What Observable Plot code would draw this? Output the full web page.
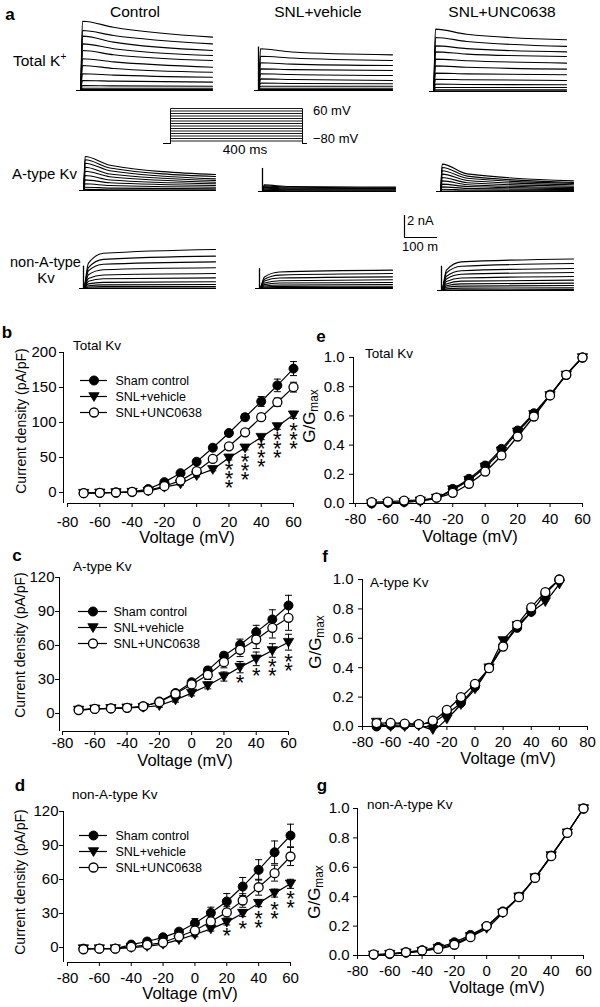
<!DOCTYPE html>
<html>
<head>
<meta charset="utf-8">
<script src="https://cdn.jsdelivr.net/npm/d3@7"></script>
<script src="https://cdn.jsdelivr.net/npm/@observablehq/plot@0.6"></script>
<style>
html,body{margin:0;padding:0;background:#fff;}
#fig{position:relative;width:600px;height:1007px;overflow:hidden;background:#fff;color:#000;font-family:"Liberation Sans",Arial,Helvetica,sans-serif;}
.lbl{position:absolute;white-space:nowrap;line-height:1;font-weight:normal;}
.lbl sub{font-size:0.7em;vertical-align:-0.3em;line-height:0;}
.lbl sup{font-size:0.65em;vertical-align:0.6em;line-height:0;}
</style>
</head>
<body>
<div id="fig"></div>
<script>
const FONT = '"Liberation Sans", Arial, Helvetica, sans-serif';
const fig = document.getElementById("fig");

// ================= DATA =================
const voltages = [-70, -60, -50, -40, -30, -20, -10, 0, 10, 20, 30, 40, 50, 60];
const seriesNames = ["Sham control", "SNL+vehicle", "SNL+UNC0638"];

// (b) Total Kv current density (pA/pF)
const totalKvSham       = [-1, -0.5, 0, 1, 5, 14.8, 27.6, 44, 64, 85, 107.6, 130, 153, 177];
const totalKvShamSem    = [1, 1, 1, 1, 1.5, 2, 2.5, 3, 3, 3.5, 5, 7, 9, 10];
const totalKvVehicle    = [-1, -0.5, 0, 0.5, 2, 7.6, 12.4, 24.3, 33, 49.5, 63.8, 79, 94.3, 111];
const totalKvVehicleSem = [1, 1, 1, 1, 1, 1.5, 2, 2, 2, 3, 3, 3.5, 4, 5];
const totalKvUnc        = [-1, -0.5, 0, 1, 3, 9, 17, 30.5, 48, 66, 86, 107.6, 129, 150.5];
const totalKvUncSem     = [1, 1, 1, 1, 1, 2, 2, 3, 3, 3.5, 4, 5, 6, 7];
const totalKvStarV = [20, 30, 40, 50, 60];
const totalKvStarN = [3, 3, 3, 3, 3];
const totalKvStarY = [22, 33, 52, 64.8, 78];

// (c) A-type Kv current density (pA/pF)
const aKvSham       = [3.5, 4, 4.5, 5, 6, 10.6, 18, 27.6, 38, 51, 60.6, 71.8, 83, 95.3];
const aKvShamSem    = [1, 1, 1, 1, 1, 1.5, 2, 2.5, 3, 3, 5, 6, 8.5, 9];
const aKvVehicle    = [3, 4, 4.5, 5, 5.5, 7, 12, 18, 24.7, 32.6, 40.9, 48.2, 55.6, 62.9];
const aKvVehicleSem = [1, 1, 1, 1, 1, 1.5, 2, 2.5, 3, 4, 5, 6, 6, 7];
const aKvUnc        = [3, 4, 4.5, 5, 6.4, 10, 17.4, 25.6, 34, 45.3, 56.2, 65.3, 75.6, 84.4];
const aKvUncSem     = [1, 1, 1, 1, 1, 1.5, 2, 3, 4, 5, 6, 8, 9, 11];
const aKvStarV = [30, 40, 50, 60];
const aKvStarN = [1, 1, 2, 2];
const aKvStarY = [29, 35, 38.4, 43];

// (d) non-A-type Kv current density (pA/pF)
const nonAKvSham       = [-1, -1, -1, 2.6, 5.3, 9, 14, 21.5, 30.6, 40.6, 53.8, 68.5, 84, 98.8];
const nonAKvShamSem    = [1, 1, 1, 1, 1, 1.5, 2, 4, 5, 7, 8, 9, 10, 10];
const nonAKvVehicle    = [-1, -1, -1, 0, 1, 3, 7, 11.5, 16.5, 22.4, 30.3, 39.1, 48, 56.2];
const nonAKvVehicleSem = [1, 1, 1, 1, 1, 1, 1.5, 2, 2, 2.5, 3, 3, 3.5, 4];
const nonAKvUnc        = [-1.5, -1, -1, 0.5, 2.4, 4.4, 9.7, 15, 23, 31, 41.5, 53.2, 65.6, 80.3];
const nonAKvUncSem     = [1, 1, 1, 1, 1, 1.5, 2, 3, 4, 5, 6, 7, 7, 8];
const nonAKvStarV = [20, 30, 40, 50, 60];
const nonAKvStarN = [1, 1, 2, 2, 2];
const nonAKvStarY = [12, 18, 23, 31, 40.3];

// (e) Total Kv G/Gmax
const gTotalSham    = [0.0, 0.005, 0.01, 0.02, 0.04, 0.1, 0.169, 0.26, 0.374, 0.5, 0.618, 0.746, 0.88, 1.0];
const gTotalVehicle = [0.0, 0.003, 0.008, 0.018, 0.038, 0.095, 0.16, 0.25, 0.36, 0.49, 0.61, 0.74, 0.88, 1.0];
const gTotalUnc     = [0.01, 0.013, 0.02, 0.025, 0.04, 0.073, 0.135, 0.219, 0.329, 0.459, 0.596, 0.74, 0.881, 1.0];

// (f) A-type Kv G/Gmax
const gASham    = [0.0, 0.01, 0.01, 0.015, 0.03, 0.09, 0.16, 0.27, 0.4, 0.55, 0.671, 0.78, 0.9, 1.0];
const gAVehicle = [0.03, 0.0, 0.0, 0.005, -0.02, 0.052, 0.15, 0.256, 0.4, 0.585, 0.687, 0.778, 0.85, 0.97];
const gAUnc     = [0.023, 0.025, 0.02, 0.016, 0.04, 0.113, 0.2, 0.29, 0.397, 0.544, 0.692, 0.81, 0.914, 1.0];

// (g) non-A-type Kv G/Gmax
const gNonASham    = [0.005, 0.01, 0.02, 0.035, 0.058, 0.09, 0.14, 0.2, 0.3, 0.4, 0.53, 0.68, 0.835, 1.0];
const gNonAVehicle = [0.004, 0.009, 0.018, 0.03, 0.05, 0.08, 0.13, 0.185, 0.29, 0.4, 0.53, 0.68, 0.835, 1.0];
const gNonAUnc     = [0.007, 0.013, 0.022, 0.034, 0.045, 0.073, 0.125, 0.2, 0.295, 0.397, 0.528, 0.676, 0.834, 1.0];

// tick values
const ivXTicks = [-80, -60, -40, -20, 0, 20, 40, 60];
const fXTicks = [-80, -60, -40, -20, 0, 20, 40, 60, 80];
const totalKvYTicks = [0, 50, 100, 150, 200];
const kvYTicks = [0, 30, 60, 90, 120];
const gYTicks = [0, 0.2, 0.4, 0.6, 0.8, 1.0];

// (a) current traces, nA; each trace = values at the listed times (ms)
const traceColumns = ["Control", "SNL+vehicle", "SNL+UNC0638"];
const totalKTimes = [6, 100, 400];
const totalKControl = [[6.3,5.75,4.85],[5.45,5.0,4.24],[4.94,4.4,3.64],[4.24,3.8,3.18],[3.64,3.25,2.73],[2.88,2.6,2.12],[2.27,2.0,1.66],[1.52,1.4,1.21],[0.91,0.85,0.76],[0.45,0.42,0.39],[0.2,0.2,0.2],[0.08,0.08,0.08]];
const totalKVehicle = [[3.79,3.5,3.24],[3.12,2.95,2.73],[2.52,2.4,2.27],[1.97,1.9,1.82],[1.52,1.45,1.36],[1.06,1.0,0.91],[0.67,0.64,0.61],[0.39,0.39,0.39],[0.2,0.2,0.2],[0.08,0.08,0.08]];
const totalKUnc = [[5.67,5.2,4.7],[4.91,4.55,4.1],[4.15,3.9,3.6],[3.6,3.4,3.18],[2.94,2.8,2.58],[2.33,2.2,2.03],[1.67,1.6,1.52],[1.12,1.07,1.0],[0.67,0.64,0.61],[0.36,0.36,0.36],[0.15,0.15,0.15],[0.05,0.05,0.05]];
const totalKSpike = [0, 3.95, 0];

const aTypeTimes = [5, 80, 400];
const aTypeControl = [[3.09,2.3,1.45],[2.79,2.05,1.27],[2.48,1.8,1.06],[2.12,1.5,0.91],[1.75,1.25,0.75],[1.36,0.95,0.61],[0.97,0.7,0.45],[0.61,0.45,0.3],[0.3,0.22,0.15],[0.1,0.07,0.05]];
const aTypeVehicle = [[0.6,0.45,0.4],[0.5,0.38,0.33],[0.4,0.3,0.26],[0.3,0.22,0.2],[0.2,0.15,0.13],[0.1,0.07,0.06]];
const aTypeUnc = [[2.49,1.6,0.97],[2.18,1.4,0.82],[1.88,1.2,0.73],[1.58,1.0,0.61],[1.27,0.8,0.48],[0.97,0.62,0.36],[0.67,0.45,0.27],[0.42,0.28,0.18],[0.2,0.14,0.1],[0.05,0.04,0.03]];
const aTypeSpike = [0, 2.1, 0];

const nonATimes = [15, 60, 400];
const nonAControl = [[2.3,3.2,3.55],[1.9,2.65,2.94],[1.6,2.2,2.42],[1.25,1.7,1.88],[0.9,1.23,1.36],[0.65,0.88,0.97],[0.42,0.56,0.61],[0.25,0.33,0.36],[0.13,0.17,0.18],[0.04,0.05,0.05]];
const nonAVehicle = [[1.05,1.5,1.67],[0.85,1.22,1.36],[0.68,0.95,1.06],[0.5,0.71,0.79],[0.35,0.5,0.55],[0.23,0.32,0.36],[0.14,0.19,0.21],[0.06,0.08,0.09]];
const nonAUnc = [[1.85,2.6,2.87],[1.6,2.2,2.45],[1.3,1.8,2.0],[1.05,1.48,1.64],[0.82,1.14,1.27],[0.6,0.85,0.94],[0.43,0.6,0.67],[0.29,0.4,0.45],[0.15,0.22,0.24],[0.05,0.07,0.08]];
const nonASpike = [2.03, 1.8, 2.2];

// voltage protocol (mV, ms)
const holdingMv = -80;
const stepLevelsMv = [-70, -60, -50, -40, -30, -20, -10, 0, 10, 20, 30, 40, 50, 60];
const protocolMs = [-20, 0, 400, 410];
// scale bar
const scaleBarNA = 2;
const scaleBarMs = 100;

// ================= HELPERS =================
function addSvg(svg, left, top) {
  svg.style.position = "absolute";
  svg.style.left = left + "px";
  svg.style.top = top + "px";
  svg.style.overflow = "visible";
  svg.style.background = "transparent";
  svg.style.maxWidth = "none";
  fig.appendChild(svg);
}
function label(html, x, y, o = {}) {
  const d = document.createElement("div");
  d.className = "lbl";
  d.innerHTML = html;
  d.style.left = x + "px";
  d.style.top = y + "px";
  d.style.fontSize = (o.size || 14) + "px";
  if (o.bold) d.style.fontWeight = "bold";
  const ax = o.anchor === "middle" ? "-50%" : o.anchor === "end" ? "-100%" : "0";
  d.style.transform = `translate(${ax}, -50%)` + (o.rotate ? ` rotate(${o.rotate}deg)` : "");
  d.style.transformOrigin = "center center";
  fig.appendChild(d);
}
const triangleDown = {draw(ctx, size) {
  const r = Math.sqrt(size / Math.PI);
  ctx.moveTo(-1.15 * r, -0.85 * r); ctx.lineTo(1.15 * r, -0.85 * r); ctx.lineTo(0, 1.1 * r); ctx.closePath();
}};
const capMark = {draw(ctx) { ctx.moveTo(-3.5, 0); ctx.lineTo(3.5, 0); }};
const seriesStyle = [
  {symbol: "circle", fill: "black", stroke: "black", strokeWidth: 1},
  {symbol: triangleDown, fill: "black", stroke: "black", strokeWidth: 0.8},
  {symbol: "circle", fill: "white", stroke: "black", strokeWidth: 1.3}
];
function rowsOf(values, sems) {
  return voltages.map((v, i) => ({v, y: values[i], sem: sems ? sems[i] : 0}));
}
function starsOf(vs, ns, ys) { return vs.map((v, i) => ({v, n: ns[i], y: ys[i]})); }

function dataPanel(p) {
  const [left, top, width, height] = p.box;
  const [px0, px1, py0, py1] = p.frame;
  const x0 = p.xDomain[0], y0 = p.yDomain[0], yTop = p.yDomain[1];
  const xFrom = p.xAxisFrom, xLast = p.xTicks[p.xTicks.length - 1];
  const marks = [
    Plot.ruleX([x0], {y1: () => y0, y2: () => yTop, stroke: "black", strokeWidth: 1}),
    Plot.ruleY([y0], {x1: () => xFrom, x2: () => xLast, stroke: "black", strokeWidth: 1})
  ];
  p.series.forEach(rows => marks.push(Plot.line(rows, {x: "v", y: "y", stroke: "black", strokeWidth: p.lineWidth, curve: p.curve})));
  p.series.forEach(rows => {
    const eb = rows.filter(d => d.sem > 0);
    if (!eb.length) return;
    marks.push(Plot.ruleX(eb, {x: "v", y1: d => d.y - d.sem, y2: d => d.y + d.sem, stroke: "black", strokeWidth: 1}));
    marks.push(Plot.dot(eb, {x: "v", y: d => d.y + d.sem, symbol: capMark, fill: "none", stroke: "black", strokeWidth: 1}));
    marks.push(Plot.dot(eb, {x: "v", y: d => d.y - d.sem, symbol: capMark, fill: "none", stroke: "black", strokeWidth: 1}));
  });
  p.series.forEach((rows, k) => marks.push(Plot.dot(rows, {x: "v", y: "y", r: 4.5, ...seriesStyle[k]})));
  if (p.stars) marks.push(Plot.text(p.stars, {x: "v", y: "y", text: d => Array(d.n).fill("*").join("\n"),
    fontSize: 22, lineHeight: 0.41, dy: 6, fontFamily: FONT, fill: "black"}));
  const svg = Plot.plot({
    width, height,
    marginLeft: px0 - left, marginRight: left + width - px1,
    marginTop: py1 - top, marginBottom: top + height - py0,
    style: {background: "transparent", fontFamily: FONT, fontSize: "15px", color: "black", overflow: "visible"},
    x: {domain: p.xDomain, ticks: p.xTicks, tickSize: 4, tickPadding: p.xPad, tickFormat: d => String(d), label: null},
    y: {domain: p.yDomain, ticks: p.yTicks, tickSize: 4, tickPadding: p.yPad, tickFormat: p.yFormat, label: null},
    marks
  });
  addSvg(svg, left, top);
}

function legendPanel(lx1, lx2, tx, rowsY) {
  const left = lx1 - 10, top = rowsY[0] - 10, width = 160, height = rowsY[2] - rowsY[0] + 20;
  const marks = [Plot.ruleY(seriesNames, {y: d => d, x1: () => 0, x2: () => 1, stroke: "black", strokeWidth: 1.2})];
  seriesNames.forEach((name, k) => marks.push(Plot.dot([name], {x: () => 0.5, y: d => d, r: 4.5, ...seriesStyle[k]})));
  marks.push(Plot.text(seriesNames, {x: () => 1, y: d => d, text: d => d, textAnchor: "start", dx: tx - lx2, fontSize: 12.5, fontFamily: FONT, fill: "black"}));
  const svg = Plot.plot({
    width, height, marginLeft: 10, marginRight: width - (lx2 - left), marginTop: 10, marginBottom: 10,
    x: {domain: [0, 1], axis: null},
    y: {type: "point", domain: seriesNames, axis: null, padding: 0},
    style: {background: "transparent", fontFamily: FONT, overflow: "visible"},
    marks
  });
  addSvg(svg, left, top);
}

function tracePanel(traces, times, spike, t0px, t400px, base) {
  const s = (t400px - t0px) / 400;
  const xStart = t0px - 12 * s;
  const left = Math.floor(xStart) - 2, top = base - 80, width = Math.ceil(t400px - left) + 3, height = 84;
  const rows = [];
  traces.concat([[0, 0, 0]]).forEach((tr, k) => {
    rows.push({k, t: -12, i: 0}, {k, t: 0, i: 0});
    times.forEach((t, j) => rows.push({k, t, i: tr[j]}));
  });
  const marks = [Plot.line(rows, {x: "t", y: "i", z: "k", curve: "monotone-x", stroke: "black", strokeWidth: 1.1})];
  if (spike > 0) marks.push(Plot.ruleX([0], {y1: () => 0, y2: () => spike, stroke: "black", strokeWidth: 1.3}));
  const svg = Plot.plot({
    width, height,
    marginLeft: xStart - left, marginRight: left + width - t400px,
    marginTop: (base - 77) - top, marginBottom: top + height - base,
    x: {domain: [-12, 400], axis: null},
    y: {domain: [0, 7], axis: null},
    style: {background: "transparent", overflow: "visible"},
    marks
  });
  addSvg(svg, left, top);
}

// ================= PANEL a =================
label("a", 10, 14, {size: 17, bold: true, anchor: "middle"});
label(traceColumns[0], 135, 12, {size: 15.5, anchor: "middle"});
label(traceColumns[1], 318, 12, {size: 15.5, anchor: "middle"});
label(traceColumns[2], 502, 12, {size: 15.5, anchor: "middle"});
label("Total K<sup>+</sup>", 13, 61, {size: 15.5});
label("A-type Kv", 12, 173, {size: 15});
label("non-A-type", 10, 262, {size: 14.5});
label("Kv", 46, 277, {size: 15, anchor: "middle"});

tracePanel(totalKControl, totalKTimes, totalKSpike[0], 80, 212, 90);
tracePanel(totalKVehicle, totalKTimes, totalKSpike[1], 258, 392, 90);
tracePanel(totalKUnc, totalKTimes, totalKSpike[2], 433, 566, 90.5);
tracePanel(aTypeControl, aTypeTimes, aTypeSpike[0], 83, 215, 190);
tracePanel(aTypeVehicle, aTypeTimes, aTypeSpike[1], 262, 395, 191);
tracePanel(aTypeUnc, aTypeTimes, aTypeSpike[2], 440, 573, 190.5);
tracePanel(nonAControl, nonATimes, nonASpike[0], 83, 215, 287.5);
tracePanel(nonAVehicle, nonATimes, nonASpike[1], 259, 392, 287.5);
tracePanel(nonAUnc, nonATimes, nonASpike[2], 441, 573, 289.5);

// voltage protocol
{
  const rows = [];
  stepLevelsMv.forEach((V, k) => {
    const [pre, on, off, post] = protocolMs;
    rows.push({k, t: pre, mv: holdingMv}, {k, t: on, mv: holdingMv}, {k, t: on, mv: V},
              {k, t: off, mv: V}, {k, t: off, mv: holdingMv}, {k, t: post, mv: holdingMv});
  });
  const left = 158, top = 104, width = 152, height = 44;
  const s = (302 - 170) / 400;
  const svg = Plot.plot({
    width, height,
    marginLeft: (170 + protocolMs[0] * s) - left, marginRight: left + width - (170 + protocolMs[3] * s),
    marginTop: 108 - top, marginBottom: top + height - 143,
    x: {domain: [protocolMs[0], protocolMs[3]], axis: null},
    y: {domain: [holdingMv, stepLevelsMv[stepLevelsMv.length - 1]], axis: null},
    style: {background: "transparent", overflow: "visible"},
    marks: [Plot.line(rows, {x: "t", y: "mv", z: "k", stroke: "black", strokeWidth: 0.9})]
  });
  addSvg(svg, left, top);
}
label("60 mV", 313, 110, {size: 13});
label("\u221280 mV", 313, 138, {size: 13});
label("400 ms", 245, 150, {size: 13.5, anchor: "middle"});

// scale bar
{
  const left = 400, top = 210, width = 42, height = 31;
  const svg = Plot.plot({
    width, height, marginLeft: 404 - left, marginRight: left + width - 437, marginTop: 215 - top, marginBottom: top + height - 237,
    x: {domain: [0, scaleBarMs], axis: null},
    y: {domain: [0, scaleBarNA], axis: null},
    style: {background: "transparent", overflow: "visible"},
    marks: [
      Plot.ruleX([0], {y1: () => 0, y2: () => scaleBarNA, stroke: "black", strokeWidth: 1.2}),
      Plot.ruleY([0], {x1: () => 0, x2: () => scaleBarMs, stroke: "black", strokeWidth: 1.2})
    ]
  });
  addSvg(svg, left, top);
}
label("2 nA", 407, 220, {size: 13});
label("100 m", 402, 246, {size: 13});

// ================= PANELS b–d =================
const intFmt = d => String(d);
const decFmt = d3.format(".1f");

dataPanel({box: [0, 340, 300, 210], frame: [63, 293, 503, 352], xDomain: [-82.5, 60], yDomain: [-15.7, 200],
  xTicks: ivXTicks, yTicks: totalKvYTicks, xPad: 9, yPad: 3, yFormat: intFmt, xAxisFrom: -80, lineWidth: 1.2, curve: "linear",
  series: [rowsOf(totalKvSham, totalKvShamSem), rowsOf(totalKvVehicle, totalKvVehicleSem), rowsOf(totalKvUnc, totalKvUncSem)],
  stars: starsOf(totalKvStarV, totalKvStarN, totalKvStarY)});
legendPanel(80, 107, 115, [380, 396, 412]);
label("b", 7, 332, {size: 17, bold: true, anchor: "middle"});
label("Total Kv", 73, 346, {size: 13.5});
label("Current density (pA/pF)", 21, 421, {size: 14, anchor: "middle", rotate: -90});
label("Voltage (mV)", 187, 537, {size: 16.5, anchor: "middle"});

dataPanel({box: [0, 565, 300, 200], frame: [59, 288, 731, 577], xDomain: [-81.86, 60], yDomain: [-15.9, 120],
  xTicks: ivXTicks, yTicks: kvYTicks, xPad: 2, yPad: 1, yFormat: intFmt, xAxisFrom: -80, lineWidth: 1.2, curve: "linear",
  series: [rowsOf(aKvSham, aKvShamSem), rowsOf(aKvVehicle, aKvVehicleSem), rowsOf(aKvUnc, aKvUncSem)],
  stars: starsOf(aKvStarV, aKvStarN, aKvStarY)});
legendPanel(78, 107, 113, [611, 627, 643]);
label("c", 17, 555, {size: 17, bold: true, anchor: "middle"});
label("A-type Kv", 73, 567, {size: 13.5});
label("Current density (pA/pF)", 20, 645, {size: 14, anchor: "middle", rotate: -90});
label("Voltage (mV)", 185, 760, {size: 16.5, anchor: "middle"});

dataPanel({box: [0, 800, 300, 207], frame: [63, 290, 962, 811], xDomain: [-82.51, 60], yDomain: [-13.2, 120],
  xTicks: ivXTicks, yTicks: kvYTicks, xPad: 6, yPad: 1, yFormat: intFmt, xAxisFrom: -80, lineWidth: 1.2, curve: "linear",
  series: [rowsOf(nonAKvSham, nonAKvShamSem), rowsOf(nonAKvVehicle, nonAKvVehicleSem), rowsOf(nonAKvUnc, nonAKvUncSem)],
  stars: starsOf(nonAKvStarV, nonAKvStarN, nonAKvStarY)});
legendPanel(79, 107, 115, [834, 851, 867]);
label("d", 20, 785, {size: 17, bold: true, anchor: "middle"});
label("non-A-type Kv", 72, 795, {size: 13.5});
label("Current density (pA/pF)", 20, 882, {size: 14, anchor: "middle", rotate: -90});
label("Voltage (mV)", 190, 993, {size: 16.5, anchor: "middle"});

// ================= PANELS e–g =================
dataPanel({box: [300, 345, 300, 205], frame: [353, 582, 503, 357], xDomain: [-81.2, 60], yDomain: [0, 1],
  xTicks: ivXTicks, yTicks: gYTicks, xPad: 6, yPad: 5, yFormat: decFmt, xAxisFrom: -81.2, lineWidth: 1.3, curve: "monotone-x",
  series: [rowsOf(gTotalSham), rowsOf(gTotalVehicle), rowsOf(gTotalUnc)]});
label("e", 321, 336, {size: 17, bold: true, anchor: "middle"});
label("Total Kv", 365, 354, {size: 13.5});
label("G/G<sub>max</sub>", 309, 416, {size: 17, anchor: "middle", rotate: -90});
label("Voltage (mV)", 470, 536, {size: 16.5, anchor: "middle"});

dataPanel({box: [300, 570, 300, 200], frame: [362, 587, 726, 579], xDomain: [-80, 80], yDomain: [0, 1],
  xTicks: fXTicks, yTicks: gYTicks, xPad: 6, yPad: 5, yFormat: decFmt, xAxisFrom: -80, lineWidth: 1.3, curve: "monotone-x",
  series: [rowsOf(gASham), rowsOf(gAVehicle), rowsOf(gAUnc)]});
label("f", 325, 556, {size: 17, bold: true, anchor: "middle"});
label("A-type Kv", 370, 583, {size: 13.5});
label("G/G<sub>max</sub>", 315, 642, {size: 17, anchor: "middle", rotate: -90});
label("Voltage (mV)", 508, 758, {size: 16.5, anchor: "middle"});

dataPanel({box: [300, 795, 300, 212], frame: [357, 583, 955, 808], xDomain: [-80, 60], yDomain: [0, 1],
  xTicks: ivXTicks, yTicks: gYTicks, xPad: 6, yPad: 4, yFormat: decFmt, xAxisFrom: -80, lineWidth: 1.3, curve: "monotone-x",
  series: [rowsOf(gNonASham), rowsOf(gNonAVehicle), rowsOf(gNonAUnc)]});
label("g", 322, 785, {size: 17, bold: true, anchor: "middle"});
label("non-A-type Kv", 367, 805, {size: 13.5});
label("G/G<sub>max</sub>", 314, 892, {size: 17, anchor: "middle", rotate: -90});
label("Voltage (mV)", 497, 987, {size: 16.5, anchor: "middle"});
</script>
</body>
</html>
